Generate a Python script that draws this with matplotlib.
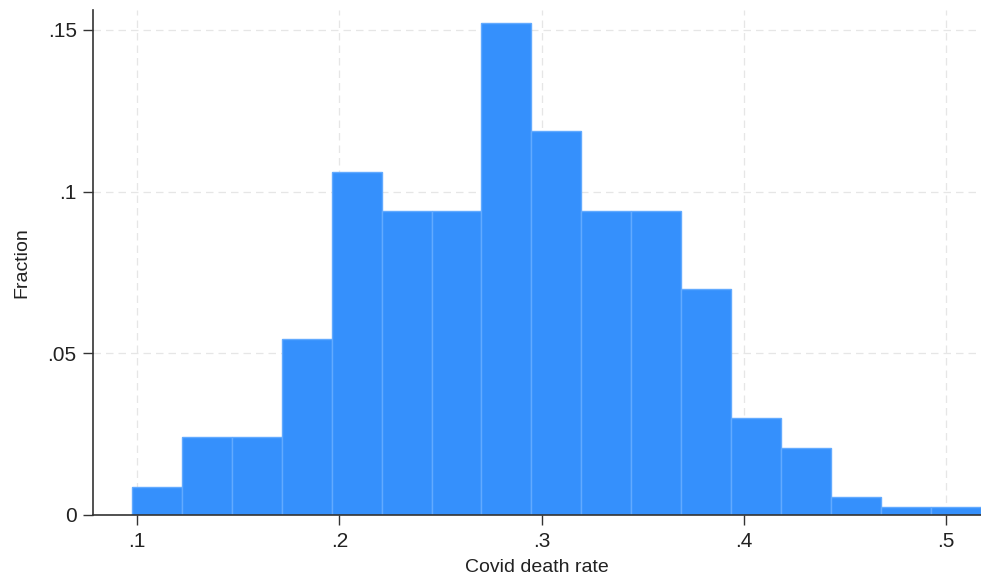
import matplotlib.pyplot as plt
import numpy as np

# histogram bins (Covid death rate) and fraction per bin
bin_start = 0.0974
bin_width = 0.0247
fractions = [0.0088, 0.0240, 0.0240, 0.0545, 0.1062, 0.0941, 0.0941, 0.1521,
             0.1186, 0.0941, 0.0941, 0.0698, 0.0300, 0.0208, 0.0056, 0.0025, 0.0025]
x_ticks = [0.1, 0.2, 0.3, 0.4, 0.5]
x_tick_labels = ['.1', '.2', '.3', '.4', '.5']
y_ticks = [0, 0.05, 0.1, 0.15]
y_tick_labels = ['0', '.05', '.1', '.15']

plt.rcParams['font.family'] = ['Liberation Sans', 'DejaVu Sans']

fig = plt.figure(figsize=(9.81, 5.78), dpi=100)
ax = fig.add_axes([0.0951, 0.109, 0.905, 0.874])

lefts = bin_start + bin_width * np.arange(len(fractions))
ax.bar(lefts, fractions, width=bin_width, align='edge', color='#3590fc',
       edgecolor='#62aaff', linewidth=1.0, zorder=2)

ax.set_xlim(0.0784, bin_start + bin_width * len(fractions))
ax.set_ylim(0, 0.1562)
ax.set_xticks(x_ticks)
ax.set_xticklabels(x_tick_labels)
ax.set_yticks(y_ticks)
ax.set_yticklabels(y_tick_labels)

ax.grid(True, color='#e6e6e6', linestyle=(0, (6, 4)), linewidth=0.9, zorder=0)
ax.set_axisbelow(True)

for side in ('top', 'right'):
    ax.spines[side].set_visible(False)
for side in ('left', 'bottom'):
    ax.spines[side].set_color('#333333')
    ax.spines[side].set_linewidth(1.2)

ax.tick_params(axis='both', direction='out', length=7, width=1.0, color='#333333',
               labelsize=15, labelcolor='#222222', pad=5)

ax.set_xlabel('Covid death rate', fontsize=14, color='#222222', labelpad=6)
ax.set_ylabel('Fraction', fontsize=14, color='#222222', labelpad=12)

fig.savefig('out.png', dpi=100)
